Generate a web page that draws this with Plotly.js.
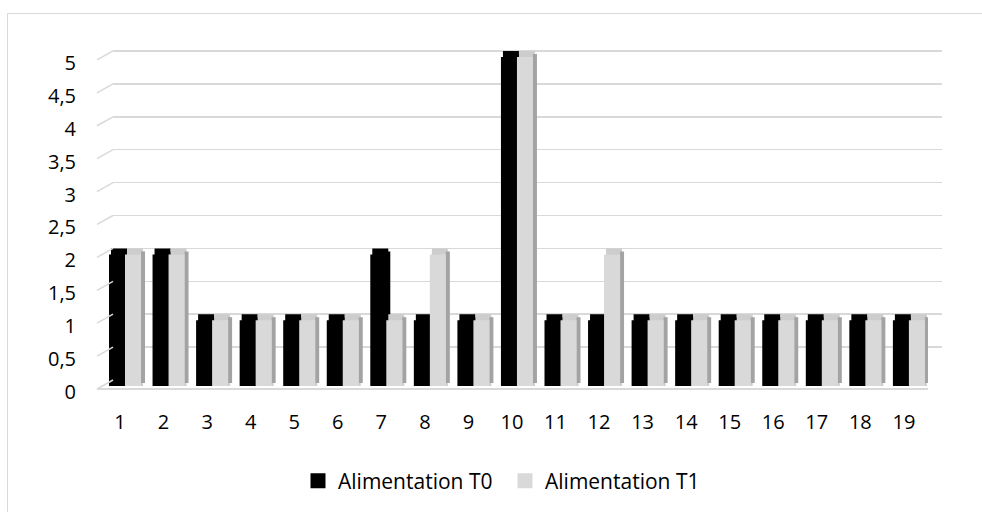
<!DOCTYPE html>
<html>
<head>
<meta charset="utf-8">
<script src="https://cdn.plot.ly/plotly-3.0.1.min.js"></script>
<style>
  html, body { margin: 0; padding: 0; background: #ffffff; overflow: hidden; }
  #wrap { position: relative; width: 982px; height: 512px; }
  #frame { position: absolute; left: 7px; top: 13px; width: 990px; height: 520px; border: 1.5px solid #d9d9d9; box-sizing: border-box; }
  #chart { position: absolute; left: 0; top: 0; width: 982px; height: 512px; }
</style>
</head>
<body>
<div id="wrap">
  <div id="frame"></div>
  <div id="chart"></div>
</div>
<script>
// ---- data ----
const categories = ["1","2","3","4","5","6","7","8","9","10","11","12","13","14","15","16","17","18","19"];
const seriesNames = ["Alimentation T0", "Alimentation T1"];
const alimT0 = [2, 2, 1, 1, 1, 1, 2, 1, 1, 5, 1, 1, 1, 1, 1, 1, 1, 1, 1];
const alimT1 = [2, 2, 1, 1, 1, 1, 1, 2, 1, 5, 1, 2, 1, 1, 1, 1, 1, 1, 1];
const yTicks = [0, 0.5, 1, 1.5, 2, 2.5, 3, 3.5, 4, 4.5, 5];
const colT0 = '#000000', colT1 = '#d9d9d9', colT1Top = '#cdcdcd', colT1Side = '#a3a3a3';

// ---- geometry (pixels -> axis units) ----
const PX_X = 43.55;   // px per category
const PX_Y = 66;      // px per unit value
const xPos = categories.map((c, i) => i + 1);
const FONT = "Open Sans, Noto Sans, sans-serif";

function faceBar(vals, color, offPx, wPx, basePx, topPx) {
  return {
    type: 'bar', x: xPos, y: vals.map(v => v + (topPx - basePx) / PX_Y), base: basePx / PX_Y,
    offset: offPx / PX_X, width: wPx / PX_X,
    marker: {color: color, line: {width: 0}},
    xaxis: 'x2', yaxis: 'y2', showlegend: false, hoverinfo: 'skip'
  };
}

const traces = [];
// invisible trace for the back-wall grid subplot
traces.push({x: [0.5], y: [0], type: 'scatter', mode: 'markers', marker: {opacity: 0},
  xaxis: 'x', yaxis: 'y', showlegend: false, hoverinfo: 'skip'});

// T0: top face, right side face, front
traces.push(faceBar(alimT0, colT0, -9, 16, 0, 6));
traces.push(faceBar(alimT0, colT0, 5, 4, 3, 3));
traces.push({
  type: 'bar', name: seriesNames[0], x: xPos, y: alimT0,
  offset: -11 / PX_X, width: 16 / PX_X,
  marker: {color: colT0, line: {width: 0}},
  xaxis: 'x2', yaxis: 'y2', showlegend: false
});
// T1: top face, right side face, front
traces.push(faceBar(alimT1, colT1Top, 7, 16, 0, 6));
traces.push(faceBar(alimT1, colT1Side, 21, 4, 3, 3));
traces.push({
  type: 'bar', name: seriesNames[1], x: xPos, y: alimT1,
  offset: 5 / PX_X, width: 16 / PX_X,
  marker: {color: colT1, line: {width: 0}},
  xaxis: 'x2', yaxis: 'y2', showlegend: false
});
// legend proxies
[[seriesNames[0], colT0], [seriesNames[1], colT1]].forEach(([n, c]) => {
  traces.push({type: 'scatter', mode: 'markers', name: n, x: [null], y: [null],
    marker: {symbol: 'square', size: 15, color: c, line: {width: 0}},
    xaxis: 'x2', yaxis: 'y2', showlegend: true, hoverinfo: 'skip'});
});

// plot area in pixels
const L = 97, R = 942, T = 40, B = 389;
const W = R - L, H = B - T;
const frontRight = 928, backLeft = 113, backBottom = 381;

const shapes = yTicks.map(v => ({
  type: 'line', xref: 'paper', yref: 'paper',
  x0: 0, y0: (B - (backBottom - v * PX_Y) - 9) / H,
  x1: (backLeft - L) / W, y1: (B - (backBottom - v * PX_Y)) / H,
  line: {color: '#d9d9d9', width: 1.5}, layer: 'above'
}));

const layout = {
  width: 982, height: 512,
  margin: {l: L, r: 982 - R, t: T, b: 512 - B, pad: 0},
  paper_bgcolor: 'rgba(0,0,0,0)', plot_bgcolor: 'rgba(0,0,0,0)',
  separators: ', ',
  barmode: 'overlay',
  font: {family: FONT, size: 20, color: '#000000'},
  showlegend: true,
  legend: {orientation: 'h', x: (298 - L) / W, xanchor: 'left', y: (B - 481) / H, yanchor: 'middle',
    font: {family: FONT, size: 21, color: '#000000'}, traceorder: 'normal', itemclick: false,
    entrywidth: 162, entrywidthmode: 'pixels', itemsizing: 'trace',
    bgcolor: 'rgba(0,0,0,0)'},
  // back wall grid
  xaxis: {domain: [(backLeft - L) / W, 1], range: [0, 1], visible: false, fixedrange: true},
  yaxis: {domain: [(B - backBottom) / H, 1], range: [0, (backBottom - T) / PX_Y], anchor: 'x',
    tickmode: 'array', tickvals: yTicks, showticklabels: false, ticks: '',
    showgrid: true, gridcolor: '#d9d9d9', gridwidth: 1.5, zeroline: false, showline: false, fixedrange: true},
  // bars (front plane)
  xaxis2: {domain: [0, (frontRight - L) / W], anchor: 'y2',
    range: [1 - 23 / PX_X, 19 + (frontRight - 120 - 18 * PX_X) / PX_X],
    tickmode: 'array', tickvals: xPos, ticktext: categories, ticks: '',
    ticklabelstandoff: 15,
    showgrid: false, zeroline: false, showline: true, linecolor: '#d9d9d9', linewidth: 1.5,
    tickfont: {family: FONT, size: 20, color: '#000000'}, fixedrange: true},
  yaxis2: {domain: [0, 1], anchor: 'x2',
    range: [-2 / PX_Y, (B - 2 - T) / PX_Y],
    tickmode: 'array', tickvals: yTicks, ticks: '',
    ticklabelstandoff: 20, ticklabelshift: 6,
    showgrid: false, zeroline: false, showline: false,
    tickfont: {family: FONT, size: 20, color: '#000000'}, fixedrange: true},
  shapes: shapes
};

Plotly.newPlot('chart', traces, layout, {displayModeBar: false, staticPlot: true});
</script>
</body>
</html>
